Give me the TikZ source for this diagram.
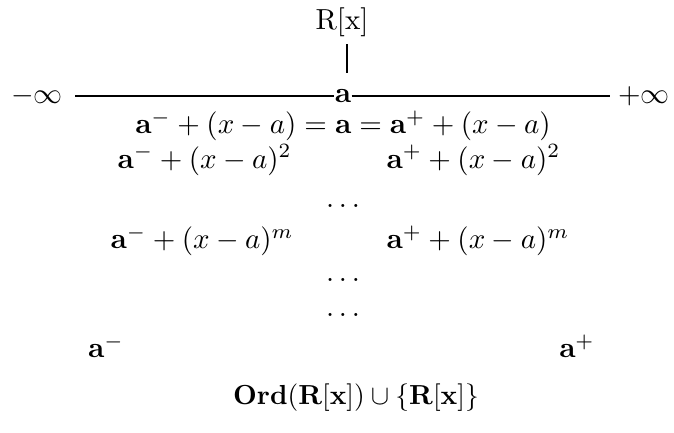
\documentclass[tikz,border=0pt]{standalone}
\usepackage{amsmath,amssymb}
\begin{document}
\begin{tikzpicture}[x=1pt,y=-1pt,
  lbl/.style={inner sep=0pt,scale=2.9},
  conn/.style={line width=1.2pt}]
\useasboundingbox (0,0) rectangle (674,432);
\node[lbl] (rx) at (342,22) {R[x]};
\node[lbl] (minf) at (37,96) {$-\infty$};
\node[lbl] (pinf) at (644,96) {$+\infty$};
\node[lbl] (a) at (343,96) {$\mathbf{a}$};
\coordinate (barTop) at (347,44);
\coordinate (barBot) at (347,73);
\draw[conn] ([xshift=12pt]minf.east) -- (a.west);
\draw[conn] (a.east) -- ([xshift=-8pt]pinf.west);
\draw[line width=1.6pt] (barTop) -- (barBot);
\node[lbl] (r1) at (343,126) {$\mathbf{a}^- + (x-a) = \mathbf{a} = \mathbf{a}^+ + (x-a)$};
\node[lbl,anchor=west] (l2) at (117,160) {$\mathbf{a}^- + (x-a)^2$};
\node[lbl,anchor=west] (p2) at (386,160) {$\mathbf{a}^+ + (x-a)^2$};
\node[lbl] (d1) at (343,206) {$\ldots$};
\node[lbl,anchor=west] (lm) at (110,241) {$\mathbf{a}^- + (x-a)^m$};
\node[lbl,anchor=west] (pm) at (386,241) {$\mathbf{a}^+ + (x-a)^m$};
\node[lbl] (d2) at (343,280) {$\ldots$};
\node[lbl] (d3) at (343,315) {$\ldots$};
\node[lbl] (am) at (106,346) {$\mathbf{a}^-$};
\node[lbl] (ap) at (577,346) {$\mathbf{a}^+$};
\node[lbl,scale=0.95] (ord) at (356,398) {$\mathbf{Ord(R[x])} \cup \{\mathbf{R[x]}\}$};
\end{tikzpicture}
\end{document}
